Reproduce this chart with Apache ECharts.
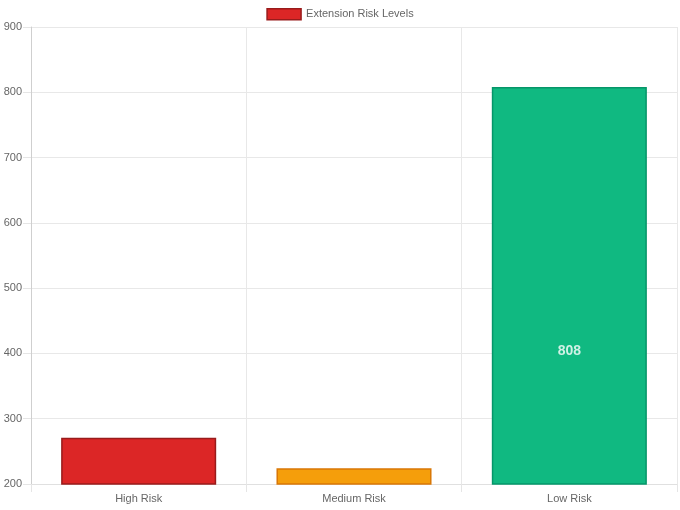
<!DOCTYPE html>
<html lang="en" style="height: 100%">
<head>
  <meta charset="utf-8">
</head>
<body style="height: 100%; margin: 0; background-color:#ffffff;">
  <div id="container" style="height: 100%"></div>

<script src="https://cdn.jsdelivr.net/npm/echarts@6/dist/echarts.min.js"></script>

<script>
  var dom = document.getElementById('container');
  var myChart = echarts.init(dom);

  var categories = ['High Risk', 'Medium Risk', 'Low Risk'];
  var riskCounts = [271, 224, 808];
  var yTicks = [200, 300, 400, 500, 600, 700, 800, 900];

  var fillColors = ['#dc2626', '#f59e0b', '#10b981'];
  var edgeColors = ['#991b1b', '#d97706', '#059669'];

  var font = '"Liberation Sans", Arial, sans-serif';

  var option = {
    animation: false,
    textStyle: { fontFamily: font },
    legend: {
      top: 3,
      left: 'center',
      itemWidth: 34,
      itemHeight: 11,
      itemGap: 10,
      icon: 'rect',
      data: ['Extension Risk Levels'],
      textStyle: { color: '#666', fontSize: 11, fontFamily: font },
      itemStyle: { color: '#dc2626', borderColor: '#991b1b', borderWidth: 1.5 }
    },
    grid: { left: 31, right: 3, top: 27, bottom: 26 },
    xAxis: {
      type: 'category',
      data: categories,
      axisLine: { show: true, lineStyle: { color: '#e0e0e0' } },
      axisTick: { show: true, length: 8, lineStyle: { color: '#e5e5e5' } },
      splitLine: { show: true, lineStyle: { color: '#e8e8e8' } },
      axisLabel: { color: '#666', fontSize: 11, margin: 9, fontFamily: font }
    },
    yAxis: {
      type: 'value',
      min: yTicks[0],
      max: yTicks[yTicks.length - 1],
      interval: 100,
      axisLine: { show: true, lineStyle: { color: '#cfcfcf' } },
      axisTick: { show: true, length: 8, lineStyle: { color: '#e5e5e5' } },
      splitLine: { show: true, lineStyle: { color: '#e8e8e8' } },
      axisLabel: { color: '#666', fontSize: 11, margin: 9, fontFamily: font }
    },
    series: [
      {
        name: 'Extension Risk Levels',
        type: 'bar',
        barCategoryGap: '28%',
        itemStyle: { color: fillColors[0], borderColor: edgeColors[0], borderWidth: 1.5 },
        data: riskCounts.map(function (v, i) {
          return {
            value: v,
            itemStyle: { color: fillColors[i], borderColor: edgeColors[i], borderWidth: 1.5 }
          };
        })
      },
      {
        // value labels sit at the middle of the full bar (from zero), clipped to the grid
        type: 'scatter',
        symbolSize: 0,
        clip: true,
        silent: true,
        z: 5,
        label: {
          show: true,
          position: 'inside',
          color: '#fff',
          fontSize: 14,
          fontWeight: 'bold',
          fontFamily: font,
          formatter: function (p) { return String(riskCounts[p.dataIndex]); }
        },
        data: riskCounts.map(function (v, i) {
          return v / 2 >= yTicks[0] ? [categories[i], v / 2] : [categories[i], null];
        })
      }
    ]
  };

  myChart.setOption(option);
  window.addEventListener('resize', myChart.resize);
</script>

</body>
</html>
